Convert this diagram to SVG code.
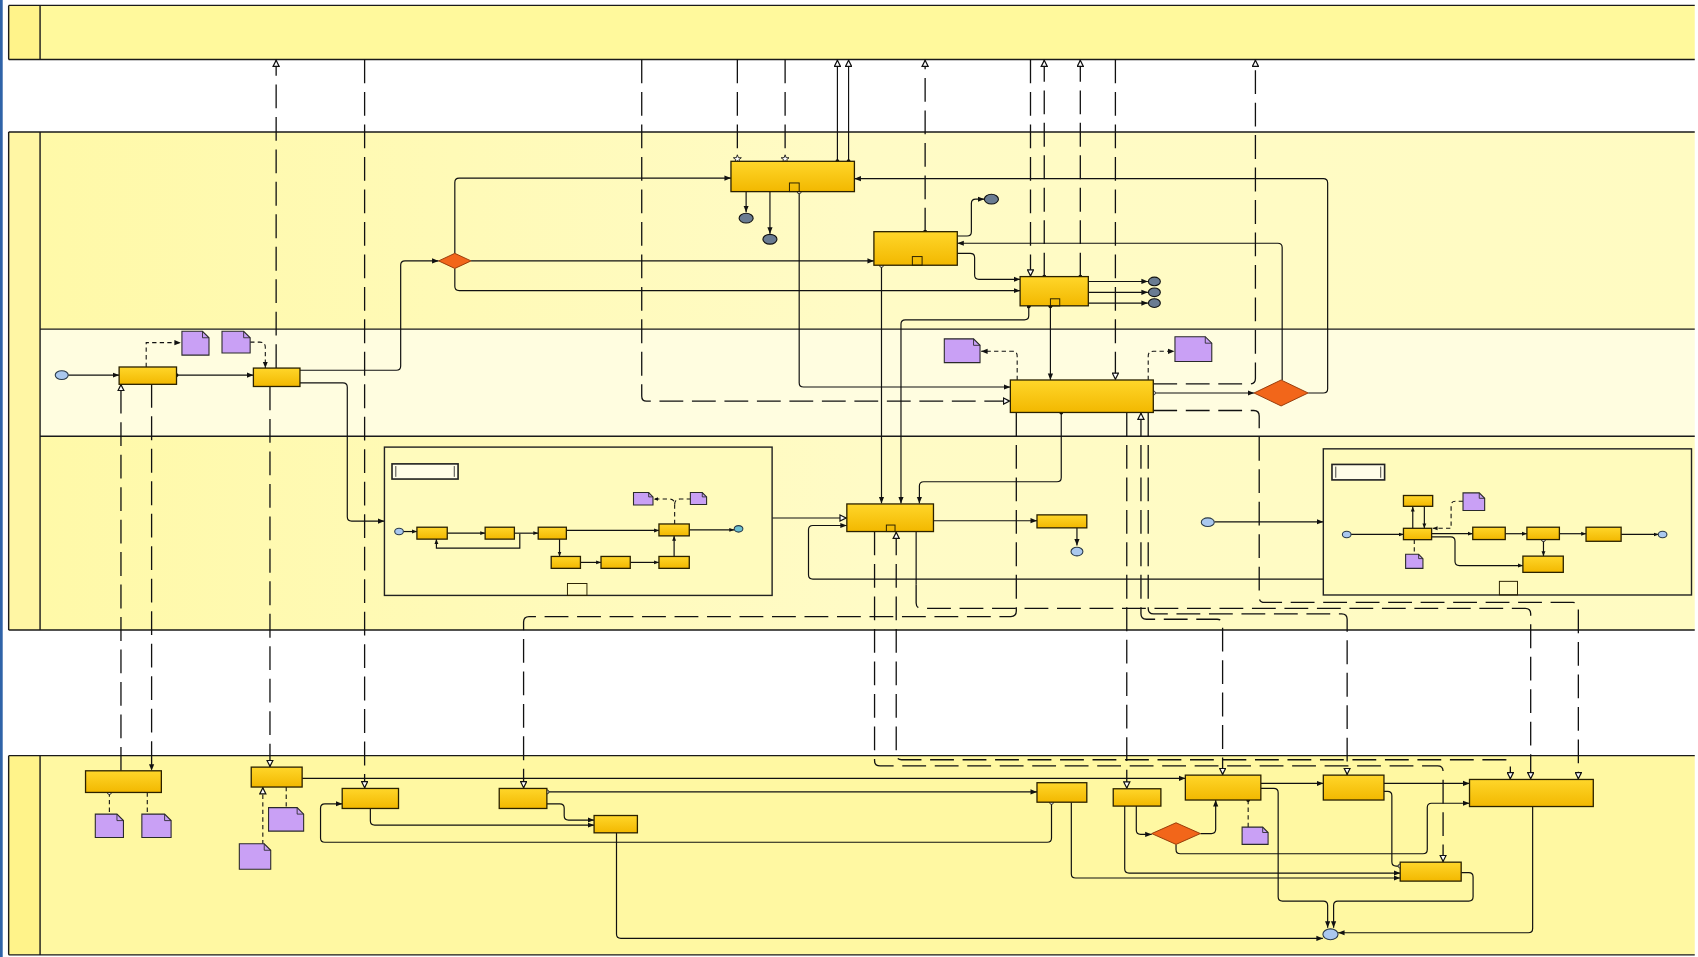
<svg xmlns="http://www.w3.org/2000/svg" width="1698" height="957" viewBox="0 0 1698 957">
<defs>
<style>
.pl{stroke:#1a1a1a;stroke-width:1.3;fill:none}
.c{stroke:#111;stroke-width:1.1;fill:none}
.d{stroke:#111;stroke-width:1.2;fill:none;stroke-dasharray:22 8}
.a{stroke:#111;stroke-width:1;fill:none;stroke-dasharray:4 3}
.t{fill:url(#gt);stroke:#2a2100;stroke-width:1.2}
.sq{fill:none;stroke:#2a2100;stroke-width:0.9}
.doc{fill:#c9a0f5;stroke:#2a2a2a;stroke-width:1}
.fold{fill:none;stroke:#2a2a2a;stroke-width:0.8}
.gw{fill:#f2661a;stroke:#8a3000;stroke-width:0.8}
.ev{fill:#aac8ef;stroke:#2a3a4a;stroke-width:1}
.evd{fill:#6a7c92;stroke:#111;stroke-width:1}
.sp{fill:#fffbbd;stroke:#222;stroke-width:1.3}
.lb{fill:#fffde8;stroke:#222;stroke-width:1.5}
</style>
<linearGradient id="gt" x1="0" y1="0" x2="0" y2="1"><stop offset="0" stop-color="#ffd62a"/><stop offset="1" stop-color="#f2b800"/></linearGradient>
<linearGradient id="gp" x1="0" y1="0" x2="1" y2="0"><stop offset="0" stop-color="#fff9a8"/><stop offset="0.5" stop-color="#fffbc6"/><stop offset="1" stop-color="#fffbc2"/></linearGradient>
<marker id="af" viewBox="0 0 10 10" refX="10" refY="5" markerWidth="6" markerHeight="6" markerUnits="userSpaceOnUse" orient="auto"><path d="M0,1 L10,5 L0,9 z" fill="#111"/></marker>
<marker id="as" viewBox="0 0 10 10" refX="10" refY="5" markerWidth="4.5" markerHeight="4.5" markerUnits="userSpaceOnUse" orient="auto"><path d="M0,1 L10,5 L0,9 z" fill="#111"/></marker>
<marker id="ao" viewBox="0 0 10 10" refX="10" refY="5" markerWidth="7" markerHeight="7" markerUnits="userSpaceOnUse" orient="auto-start-reverse"><path d="M1,1 L9,5 L1,9 z" fill="#fff" stroke="#111" stroke-width="1.6"/></marker>
<marker id="dt" viewBox="0 0 10 10" refX="5" refY="5" markerWidth="4" markerHeight="4" markerUnits="userSpaceOnUse"><circle cx="5" cy="5" r="4.5" fill="#111"/></marker>
<marker id="oc" viewBox="0 0 10 10" refX="5" refY="5" markerWidth="5" markerHeight="5" markerUnits="userSpaceOnUse"><circle cx="5" cy="5" r="3.8" fill="#fff" stroke="#111" stroke-width="1.5"/></marker>
<marker id="st" viewBox="0 0 10 10" refX="5" refY="8" markerWidth="8" markerHeight="8" markerUnits="userSpaceOnUse" orient="0"><path d="M5,0.5 L6.2,3.8 L9.6,3.9 L6.9,6 L7.9,9.4 L5,7.4 L2.1,9.4 L3.1,6 L0.4,3.9 L3.8,3.8 Z" fill="#fff" stroke="#111" stroke-width="1"/></marker>
</defs>
<rect x="0" y="0" width="1698" height="957" fill="#ffffff"/>
<g transform="scale(1.08291,1.08258)">
<rect x="0" y="0" width="2.5" height="884" fill="#2f63a8"/>
<g id="pools">
<rect x="8" y="5" width="1557" height="50" fill="#fff99c"/>
<rect x="8" y="5" width="29" height="50" fill="#fff38a"/>
<path class="pl" d="M8 5 H1565 M8 55 H1565 M8 5 V55 M37 5 V55"/>
<rect x="37" y="122" width="1528" height="182" fill="url(#gp)"/>
<rect x="37" y="304" width="1528" height="99" fill="#fffde0"/>
<rect x="37" y="403" width="1528" height="179" fill="url(#gp)"/>
<rect x="8" y="122" width="29" height="460" fill="#fff6a4"/>
<path class="pl" d="M8 122 H1565 M8 582 H1565 M8 122 V582 M37 122 V582 M37 304 H1565 M37 403 H1565"/>
<rect x="8" y="698" width="1557" height="184" fill="#fff8a2"/>
<rect x="8" y="698" width="29" height="184" fill="#fff38a"/>
<path class="pl" d="M8 698 H1565 M8 882 H1565 M8 698 V882 M37 698 V882"/>
</g>
<g id="connectors">
<path class="c" d="M63 346.5 H110" marker-end="url(#af)"/>
<path class="c" d="M163 346.5 H234" marker-start="url(#dt)" marker-end="url(#af)"/>
<path class="c" d="M277 342 H366 Q370 342 370 338 V245 Q370 241 374 241 H405" marker-end="url(#af)"/>
<path class="c" d="M420 234 V168.5 Q420 164.5 424 164.5 H675" marker-end="url(#af)"/>
<path class="c" d="M435 241 H807" marker-end="url(#af)"/>
<path class="c" d="M420 248 V264.5 Q420 268.5 424 268.5 H942" marker-end="url(#af)"/>
<path class="c" d="M1184 351 V228.7 Q1184 224.7 1180 224.7 H884" marker-end="url(#af)"/>
<path class="c" d="M1208 363 H1222 Q1226 363 1226 359 V169 Q1226 165 1222 165 H789" marker-end="url(#af)"/>
<path class="c" d="M884 234 H896 Q900 234 900 238 V254 Q900 258 904 258 H942" marker-end="url(#af)"/>
<path class="c" d="M884 218 H893 Q897 218 897 214 V188 Q897 184 901 184 H909" marker-end="url(#af)"/>
<path class="c" d="M814 245 V465" marker-start="url(#oc)" marker-end="url(#af)"/>
<path class="c" d="M950 283 V291.5 Q950 295.5 946 295.5 H836 Q832 295.5 832 299.5 V465" marker-start="url(#dt)" marker-end="url(#af)"/>
<path class="c" d="M970 283 V351" marker-start="url(#dt)" marker-end="url(#af)"/>
<path class="c" d="M738 177 V353.5 Q738 357.5 742 357.5 H933" marker-start="url(#oc)" marker-end="url(#af)"/>
<path class="c" d="M689 177 V196" marker-end="url(#af)"/>
<path class="c" d="M711 177 V216" marker-end="url(#af)"/>
<path class="c" d="M1005 260 H1060" marker-end="url(#af)"/>
<path class="c" d="M1005 270 H1060" marker-end="url(#af)"/>
<path class="c" d="M1005 280 H1060" marker-end="url(#af)"/>
<path class="c" d="M1065 363 H1158" marker-start="url(#oc)" marker-end="url(#af)"/>
<path class="c" d="M980 381 V441 Q980 445 976 445 H853 Q849 445 849 449 V465" marker-start="url(#dt)" marker-end="url(#af)"/>
<path class="c" d="M713 478.5 H782" marker-end="url(#ao)"/>
<path class="c" d="M862 481 H957.6" marker-end="url(#af)"/>
<path class="c" d="M994.5 487.6 V504" marker-end="url(#af)"/>
<path class="c" d="M1121.5 482 H1222" marker-end="url(#af)"/>
<path class="c" d="M1222 535 H750.6 Q746.6 535 746.6 531 V489.4 Q746.6 485.4 750.6 485.4 H782" marker-end="url(#af)"/>
<path class="c" d="M277 353.7 H316.7 Q320.7 353.7 320.7 357.7 V477.4 Q320.7 481.4 324.7 481.4 H355" marker-end="url(#af)"/>
<path class="a" d="M135 339 V316.5 H167" marker-end="url(#af)"/>
<path class="a" d="M231 316 H240 Q245 316 245 321 V340" marker-end="url(#af)"/>
<path class="a" d="M939.3 351 V329 Q939.3 324.5 935 324.5 H906" marker-end="url(#af)"/>
<path class="a" d="M1060.3 351 V329 Q1060.3 324.5 1065 324.5 H1084.6" marker-end="url(#af)"/>
<path class="a" d="M101 732 V752" marker-start="url(#oc)"/>
<path class="a" d="M136 732 V752"/>
<path class="a" d="M242.7 727 V779.4" marker-start="url(#ao)"/>
<path class="a" d="M264.3 727 V746"/>
<path class="a" d="M1152.6 739 V764" marker-start="url(#dt)"/>
<path class="c" d="M279 719 H1094.6" marker-end="url(#af)"/>
<path class="c" d="M505 731.5 H957.6" marker-start="url(#oc)" marker-end="url(#af)"/>
<path class="c" d="M505 742.5 H517 Q521 742.5 521 746.5 V753.5 Q521 757.5 525 757.5 H548.6" marker-end="url(#af)"/>
<path class="c" d="M342 746.8 V758.2 Q342 762.2 346 762.2 H548.6" marker-end="url(#af)"/>
<path class="c" d="M971 741 V774 Q971 778 967 778 H300 Q296 778 296 774 V746.5 Q296 742.5 300 742.5 H316" marker-start="url(#oc)" marker-end="url(#af)"/>
<path class="c" d="M989.3 741 V807 Q989.3 811 993.3 811 H1293" marker-end="url(#af)"/>
<path class="c" d="M1038.6 744.6 V802.5 Q1038.6 806.5 1042.6 806.5 H1293" marker-end="url(#af)"/>
<path class="c" d="M1049.3 744.6 V766.8 Q1049.3 770.8 1053.3 770.8 H1063.5" marker-end="url(#af)"/>
<path class="c" d="M1108.5 770 H1118.6 Q1122.6 770 1122.6 766 V739" marker-end="url(#af)"/>
<path class="c" d="M1086 780 V784.6 Q1086 788.6 1090 788.6 H1314 Q1318 788.6 1318 784.6 V746 Q1318 742 1322 742 H1357" marker-end="url(#af)"/>
<path class="c" d="M1164.3 723.7 H1222" marker-end="url(#af)"/>
<path class="c" d="M1278 723.7 H1357" marker-end="url(#af)"/>
<path class="c" d="M1278 731 H1281.3 Q1285.3 731 1285.3 735 V796 Q1285.3 800 1289.3 800 H1293" marker-end="url(#oc)"/>
<path class="c" d="M1164.3 728.3 H1176.3 Q1180.3 728.3 1180.3 732.3 V828.4 Q1180.3 832.4 1184.3 832.4 H1222 Q1226 832.4 1226 836.4 V857" marker-end="url(#af)"/>
<path class="c" d="M1349.3 806 H1356.3 Q1360.3 806 1360.3 810 V828.4 Q1360.3 832.4 1356.3 832.4 H1235.5 Q1231.5 832.4 1231.5 836.4 V857" marker-end="url(#af)"/>
<path class="c" d="M569.3 769.3 V862.8 Q569.3 866.8 573.3 866.8 H1221.6" marker-end="url(#af)"/>
<path class="c" d="M1415.3 745 V857.6 Q1415.3 861.6 1411.3 861.6 H1235.6" marker-end="url(#af)"/>
<path class="d" d="M255 340 V55" marker-end="url(#ao)"/>
<path class="d" d="M249.3 357 V708.6" marker-end="url(#ao)"/>
<path class="d" d="M336.7 55 V728.3" marker-end="url(#ao)"/>
<path class="d" d="M111.7 712 V354.6" marker-end="url(#ao)"/>
<path class="d" d="M140 354.6 V712" marker-end="url(#af)"/>
<path class="d" d="M592.6 55 V366 Q592.6 370.5 597 370.5 H933" marker-end="url(#ao)"/>
<path class="d" d="M680.9 55 V149" marker-end="url(#st)"/>
<path class="d" d="M725 55 V149" marker-end="url(#st)"/>
<path class="c" d="M773.3 149 V55" marker-start="url(#dt)" marker-end="url(#ao)"/>
<path class="c" d="M783.6 149 V55" marker-start="url(#dt)" marker-end="url(#ao)"/>
<path class="d" d="M854.3 214 V55" marker-start="url(#dt)" marker-end="url(#ao)"/>
<path class="d" d="M951.6 55 V255.5" marker-end="url(#ao)"/>
<path class="d" d="M964.3 255.5 V55" marker-start="url(#dt)" marker-end="url(#ao)"/>
<path class="d" d="M997.6 255.5 V55" marker-start="url(#dt)" marker-end="url(#ao)"/>
<path class="d" d="M1030 55 V351" marker-end="url(#ao)"/>
<path class="d" d="M1065 354.6 H1154.3 Q1159.3 354.6 1159.3 349.6 V55" marker-end="url(#ao)"/>
<path class="d" d="M938.5 381 V564.5 Q938.5 569.5 933.5 569.5 H488.5 Q483.5 569.5 483.5 574.5 V728.3" marker-end="url(#ao)"/>
<path class="d" d="M1040.5 381 V728.6" marker-end="url(#ao)"/>
<path class="d" d="M1065 379.2 H1157.8 Q1162.8 379.2 1162.8 384.2 V551.5 Q1162.8 556.5 1167.8 556.5 H1452.5 Q1457.5 556.5 1457.5 561.5 V720" marker-end="url(#ao)"/>
<path class="c" d="M846 491 V540"/>
<path class="d" d="M846 540 V557 Q846 562 851 562 H1408.5 Q1413.5 562 1413.5 567 V720" marker-end="url(#ao)"/>
<path class="d" d="M1060.3 381 V562 Q1060.3 567 1065.3 567 H1239 Q1244 567 1244 572 V716" marker-end="url(#ao)"/>
<path class="d" d="M1053.6 381 V567 Q1053.6 572 1058.6 572 H1124 Q1129 572 1129 577 V716" marker-start="url(#ao)" marker-end="url(#ao)"/>
<path class="d" d="M807.6 491 V702.5 Q807.6 707.5 812.6 707.5 H1327.6 Q1332.6 707.5 1332.6 712.5 V796.4" marker-end="url(#ao)"/>
<path class="d" d="M827.6 491 V696.8 Q827.6 701.8 832.6 701.8 H1389.7 Q1394.7 701.8 1394.7 706.8 V720" marker-start="url(#ao)" marker-end="url(#ao)"/>
</g>
<g id="evStart1"><ellipse class="ev" cx="57" cy="346.5" rx="6" ry="4"/></g>
<g id="taskA"><rect class="t" x="110" y="339" width="53" height="16"/></g>
<g id="taskB"><rect class="t" x="234" y="340" width="43" height="17"/></g>
<g id="docA1"><path class="doc" d="M168 306 H187 L193 312 V328 H168 Z"/><path class="fold" d="M187 306 V312 H193"/></g>
<g id="docA2"><path class="doc" d="M205 306 H225 L231 312 V326 H205 Z"/><path class="fold" d="M225 306 V312 H231"/></g>
<g id="taskC"><rect class="t" x="933" y="351" width="132" height="30"/></g>
<g id="gwC"><path class="gw" d="M1183 351 L1208 363 L1183 375 L1158 363 Z"/></g>
<g id="docC1"><path class="doc" d="M872 313 H899 L905 319 V335 H872 Z"/><path class="fold" d="M899 313 V319 H905"/></g>
<g id="docC2"><path class="doc" d="M1085 311 H1113 L1119 317 V334 H1085 Z"/><path class="fold" d="M1113 311 V317 H1119"/></g>
<g id="gw1"><path class="gw" d="M420 234 L435 241 L420 248 L405 241 Z"/></g>
<g id="taskD"><rect class="t" x="675" y="149" width="114" height="28"/><rect class="sq" x="729" y="169" width="9" height="8"/></g>
<g id="taskE"><rect class="t" x="807" y="214" width="77" height="31"/><rect class="sq" x="842.5" y="237" width="9" height="8"/></g>
<g id="taskF"><rect class="t" x="942" y="255.5" width="63" height="27"/><rect class="sq" x="970" y="276" width="8.6" height="6.6"/></g>
<g id="evD1"><ellipse class="evd" cx="689" cy="201.5" rx="6.5" ry="4.5"/></g>
<g id="evD2"><ellipse class="evd" cx="711" cy="221" rx="6.5" ry="4.5"/></g>
<g id="evE"><ellipse class="evd" cx="915.5" cy="184" rx="6.5" ry="4.5"/></g>
<g id="evF1"><ellipse class="evd" cx="1066" cy="260" rx="5.5" ry="4"/></g>
<g id="evF2"><ellipse class="evd" cx="1066" cy="270" rx="5.5" ry="4"/></g>
<g id="evF3"><ellipse class="evd" cx="1066" cy="280" rx="5.5" ry="4"/></g>
<g id="sub1">
<rect class="sp" x="355" y="413" width="358" height="137"/>
<rect class="lb" x="362" y="428.5" width="61" height="14"/>
<path class="fold" d="M365.5 430.5 V440.5 M419.5 430.5 V440.5"/>
<rect class="sq" x="524" y="539" width="18" height="11"/>
<g id="sub1-flows">
<path class="c" d="M372.5 491 H385" marker-end="url(#as)"/>
<path class="c" d="M413 492.5 H448" marker-end="url(#as)"/>
<path class="c" d="M475 492.5 H497" marker-end="url(#as)"/>
<path class="c" d="M523 490 H608.5" marker-end="url(#as)"/>
<path class="c" d="M636.5 489.5 H678" marker-end="url(#as)"/>
<path class="c" d="M516.7 498 V514" marker-end="url(#as)"/>
<path class="c" d="M536 519.5 H555" marker-end="url(#as)"/>
<path class="c" d="M582 519.5 H608.5" marker-end="url(#as)"/>
<path class="c" d="M622.5 514 V495" marker-end="url(#as)"/>
<path class="c" d="M480 493 V506.4 H403 V498" marker-end="url(#as)"/>
<path class="a" d="M623 484 V466 Q623 461 618 461 H603.5" marker-end="url(#as)"/>
<path class="a" d="M623 466 Q623 461 628 461 H637.5"/>
</g>
<ellipse class="ev" cx="368.5" cy="491" rx="4" ry="3"/>
<rect class="t" x="385" y="487" width="28" height="11"/>
<rect class="t" x="448" y="487" width="27" height="11"/>
<rect class="t" x="497" y="487" width="26" height="11"/>
<rect class="t" x="509" y="514" width="27" height="11"/>
<rect class="t" x="555" y="514" width="27" height="11"/>
<rect class="t" x="608.5" y="514" width="28" height="11"/>
<rect class="t" x="608.5" y="484" width="28" height="11"/>
<ellipse cx="682" cy="488.5" rx="4" ry="3" fill="#6cc0d0" stroke="#2a3a4a" stroke-width="1"/>
<path class="doc" d="M585 455 H599 L603 459 V466.5 H585 Z"/><path class="fold" d="M599 455 V459 H603"/>
<path class="doc" d="M637.5 455 H648.5 L652.5 459 V466 H637.5 Z"/><path class="fold" d="M648.5 455 V459 H652.5"/>
</g>
<g id="taskG"><rect class="t" x="782" y="465.5" width="80" height="25.5"/><rect class="sq" x="818.5" y="485" width="8" height="6"/></g>
<g id="taskH"><rect class="t" x="957.6" y="475.6" width="46" height="12"/></g>
<g id="evH"><ellipse class="ev" cx="994.5" cy="509.5" rx="5.5" ry="4"/></g>
<g id="evStart2"><ellipse class="ev" cx="1115.3" cy="482.4" rx="6" ry="4"/></g>
<g id="sub2">
<rect class="sp" x="1222" y="414.6" width="340" height="135"/>
<rect class="lb" x="1230" y="429" width="48.6" height="14.3"/>
<path class="fold" d="M1233.5 431 V441.3 M1275 431 V441.3"/>
<rect class="sq" x="1384.6" y="537" width="16.7" height="12.5"/>
<g id="sub2-flows">
<path class="c" d="M1247.6 493.7 H1296" marker-end="url(#as)"/>
<path class="c" d="M1322 493 H1360" marker-end="url(#as)"/>
<path class="c" d="M1390 493 H1410" marker-end="url(#as)"/>
<path class="c" d="M1440 493 H1464.6" marker-end="url(#as)"/>
<path class="c" d="M1497 493.7 H1531.5" marker-end="url(#as)"/>
<path class="c" d="M1304.6 488 V468" marker-end="url(#as)"/>
<path class="c" d="M1315.3 467.7 V488" marker-end="url(#as)"/>
<path class="c" d="M1425.3 498.4 V513.7" marker-start="url(#oc)" marker-end="url(#as)"/>
<path class="c" d="M1322 496 H1339.6 Q1343.6 496 1343.6 500 V518.4 Q1343.6 522.4 1347.6 522.4 H1406.3" marker-end="url(#as)"/>
<path class="a" d="M1351 463 H1344 Q1340 463 1340 467 V488 H1323" marker-end="url(#as)"/>
<path class="a" d="M1306 498.4 V512"/>
</g>
<ellipse class="ev" cx="1243.6" cy="493.7" rx="4" ry="3"/>
<rect class="t" x="1296" y="488" width="26" height="10.5"/>
<rect class="t" x="1296" y="457.7" width="27" height="10"/>
<rect class="t" x="1360" y="487" width="30" height="11.4"/>
<rect class="t" x="1410" y="487" width="30" height="11.4"/>
<rect class="t" x="1464.6" y="487" width="32.4" height="13"/>
<rect class="t" x="1406.3" y="513.7" width="37.3" height="15"/>
<ellipse class="ev" cx="1535.3" cy="493.7" rx="4" ry="3"/>
<path class="doc" d="M1351 455.3 H1366 L1371 460.3 V471.6 H1351 Z"/><path class="fold" d="M1366 455.3 V460.3 H1371"/>
<path class="doc" d="M1298 512 H1310 L1314 516 V525 H1298 Z"/><path class="fold" d="M1310 512 V516 H1314"/>
</g>
<g id="P1"><rect class="t" x="79" y="712" width="70" height="20"/></g>
<g id="docP1a"><path class="doc" d="M88 752 H108 L114 758 V773.6 H88 Z"/><path class="fold" d="M108 752 V758 H114"/></g>
<g id="docP1b"><path class="doc" d="M131 752 H152 L158 758 V773.6 H131 Z"/><path class="fold" d="M152 752 V758 H158"/></g>
<g id="P2"><rect class="t" x="232" y="708.6" width="47" height="18.4"/></g>
<g id="docP2a"><path class="doc" d="M248 746 H274.4 L280.4 752 V767.7 H248 Z"/><path class="fold" d="M274.4 746 V752 H280.4"/></g>
<g id="docP2b"><path class="doc" d="M221 779.4 H244 L250 785.4 V803 H221 Z"/><path class="fold" d="M244 779.4 V785.4 H250"/></g>
<g id="P3"><rect class="t" x="316" y="728.3" width="52" height="18.5"/></g>
<g id="P4"><rect class="t" x="461" y="728.3" width="44" height="18.5"/></g>
<g id="P5"><rect class="t" x="548.6" y="753.3" width="40" height="16"/></g>
<g id="P6"><rect class="t" x="957.6" y="723" width="46" height="18"/></g>
<g id="P7"><rect class="t" x="1028" y="728.6" width="44" height="16"/></g>
<g id="P8"><rect class="t" x="1094.6" y="716" width="69.7" height="23"/></g>
<g id="gwP"><path class="gw" d="M1086 760 L1108.5 770 L1086 780 L1063.5 770 Z"/></g>
<g id="docP8"><path class="doc" d="M1147 764 H1166 L1171 769 V780 H1147 Z"/><path class="fold" d="M1166 764 V769 H1171"/></g>
<g id="P9"><rect class="t" x="1222" y="716" width="56" height="23"/></g>
<g id="P10"><rect class="t" x="1357" y="720" width="114.3" height="25"/></g>
<g id="P11"><rect class="t" x="1293" y="796.4" width="56.3" height="17.5"/></g>
<g id="endP"><ellipse class="ev" cx="1228.6" cy="863" rx="7" ry="5"/></g>
</g>
</svg>
